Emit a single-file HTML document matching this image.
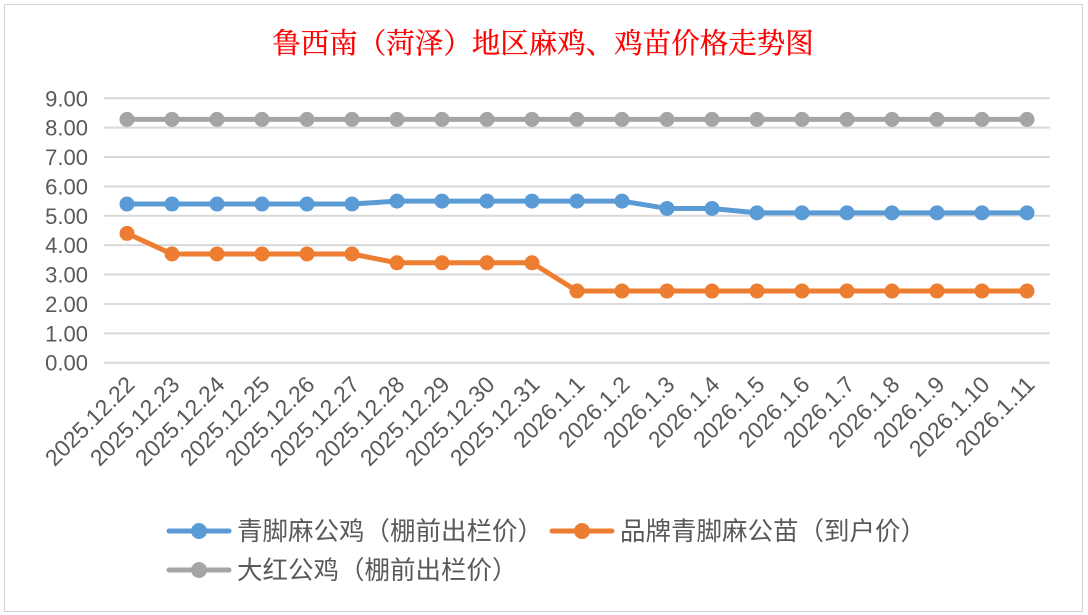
<!DOCTYPE html>
<html><head><meta charset="utf-8"><style>
html,body{margin:0;padding:0;background:#fff;}
svg{display:block;}
</style></head><body>
<svg width="1088" height="615" xmlns="http://www.w3.org/2000/svg" font-family="Liberation Sans, Noto Sans CJK SC, sans-serif">
<rect x="0" y="0" width="1088" height="615" fill="#fff"/>
<rect x="4.5" y="4.5" width="1078" height="607" fill="#fff" stroke="#d4d4d4" stroke-width="1"/>
<text x="543" y="53" text-anchor="middle" font-family="Noto Serif CJK SC, serif" font-size="28.5" fill="#ff0000" stroke="#ff0000" stroke-width="0.3">鲁西南（菏泽）地区麻鸡、鸡苗价格走势图</text>
<g id="grid" stroke="#d9d9d9" stroke-width="2">
</g>
<g id="yl" font-size="22" fill="#595959" text-anchor="end"></g>
<g id="xl" font-size="23" fill="#595959" text-anchor="end"></g>
<g id="series"></g>
<g font-family="Liberation Sans, Noto Sans CJK SC, sans-serif" font-size="25.5" fill="#595959">
<line x1="169" y1="531" x2="229" y2="531" stroke="#5b9bd5" stroke-width="5" stroke-linecap="round"/><circle cx="199" cy="531" r="8" fill="#5b9bd5"/>
<text x="237" y="540">青脚麻公鸡（棚前出栏价）</text>
<line x1="552" y1="531" x2="612" y2="531" stroke="#ed7d31" stroke-width="5" stroke-linecap="round"/><circle cx="582" cy="531" r="8" fill="#ed7d31"/>
<text x="620" y="540">品牌青脚麻公苗（到户价）</text>
<line x1="169" y1="570" x2="229" y2="570" stroke="#a5a5a5" stroke-width="5" stroke-linecap="round"/><circle cx="199" cy="570" r="8" fill="#a5a5a5"/>
<text x="237" y="579">大红公鸡（棚前出栏价）</text>
</g>
</svg>
<script>
const ns="http://www.w3.org/2000/svg";
function el(p,t,a,txt){const e=document.createElementNS(ns,t);for(const k in a)e.setAttribute(k,a[k]);if(txt)e.textContent=txt;document.getElementById(p).appendChild(e);}
const Y=v=>362.7-v*29.38;
for(let i=0;i<=9;i++){el('grid','line',{x1:104,x2:1050,y1:Y(i),y2:Y(i)});el('yl','text',{x:88,y:Y(i)+8},i.toFixed(2));}
const labels=[];for(let d=22;d<=31;d++)labels.push('2025.12.'+d);for(let d=1;d<=11;d++)labels.push('2026.1.'+d);
const X=i=>127+i*45;
labels.forEach((l,i)=>el('xl','text',{x:0,y:0,transform:`translate(${X(i)+9},${386}) rotate(-45)`},l));
const blue=[5.4,5.4,5.4,5.4,5.4,5.4,5.5,5.5,5.5,5.5,5.5,5.5,5.25,5.25,5.1,5.1,5.1,5.1,5.1,5.1,5.1];
const orange=[4.4,3.7,3.7,3.7,3.7,3.7,3.4,3.4,3.4,3.4,2.44,2.44,2.44,2.44,2.44,2.44,2.44,2.44,2.44,2.44,2.44];
const gray=Array(21).fill(8.28);
[[gray,'#a5a5a5'],[blue,'#5b9bd5'],[orange,'#ed7d31']].forEach(([d,c])=>{
el('series','polyline',{points:d.map((v,i)=>X(i)+','+Y(v)).join(' '),fill:'none',stroke:c,'stroke-width':5,'stroke-linejoin':'round'});
d.forEach((v,i)=>el('series','circle',{cx:X(i),cy:Y(v),r:7.5,fill:c}));
});
</script>
</body></html>
